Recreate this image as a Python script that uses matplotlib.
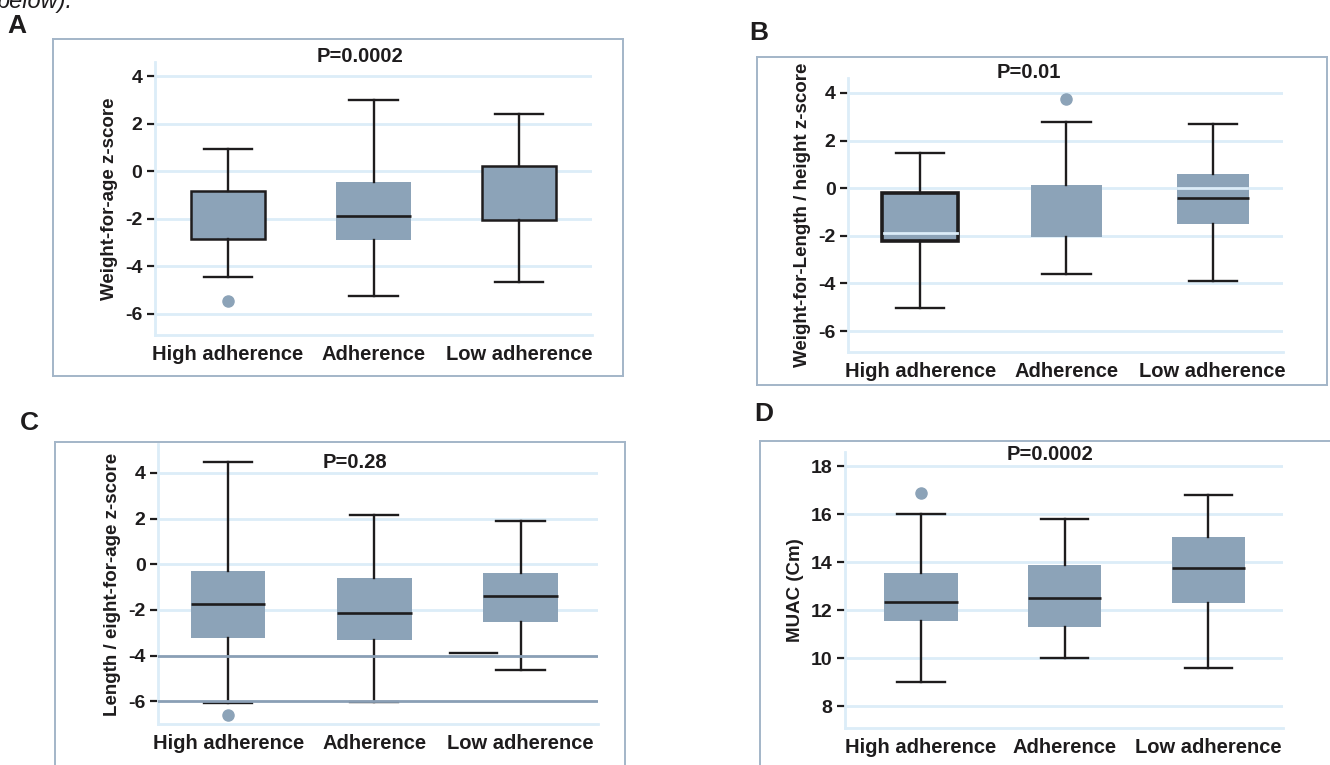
import matplotlib
matplotlib.use("Agg")
import matplotlib.pyplot as plt
import numpy as np
from matplotlib.lines import Line2D

plt.rcParams['font.family'] = ['Liberation Sans', 'DejaVu Sans']

# ---------------- data ----------------
categories = ["High adherence", "Adherence", "Low adherence"]

# Panel A: Weight-for-age z-score
a_whislo = [-4.45, -5.25, -4.65]
a_q1 = [-2.85, -2.90, -2.05]
a_med = [None, -1.90, None]
a_q3 = [-0.85, -0.45, 0.20]
a_whishi = [0.95, 3.00, 2.40]
a_fliers = [[-5.45], [], []]

# Panel B: Weight-for-Length / height z-score
b_whislo = [-5.05, -3.60, -3.90]
b_q1 = [-2.20, -2.05, -1.50]
b_med = [None, None, -0.40]
b_q3 = [-0.20, 0.15, 0.60]
b_whishi = [1.50, 2.80, 2.70]
b_fliers = [[], [3.75], []]

# Panel C: Length / height-for-age z-score
c_whislo = [-6.10, -6.05, -4.65]
c_q1 = [-3.25, -3.30, -2.55]
c_med = [-1.75, -2.15, -1.40]
c_q3 = [-0.30, -0.60, -0.40]
c_whishi = [4.50, 2.15, 1.90]
c_fliers = [[-6.60], [], []]
c_extra_y = -3.90
c_extra_x = [2.52, 2.84]

# Panel D: MUAC (Cm)
d_whislo = [9.00, 10.00, 9.60]
d_q1 = [11.55, 11.30, 12.30]
d_med = [12.35, 12.50, 13.75]
d_q3 = [13.55, 13.90, 15.05]
d_whishi = [16.00, 15.80, 16.80]
d_fliers = [[16.90], [], []]

z_ticks = [4, 2, 0, -2, -4, -6]
muac_ticks = [18, 16, 14, 12, 10, 8]

p_values = ["P=0.0002", "P=0.01", "P=0.28", "P=0.0002"]
ylabels = ["Weight-for-age z-score", "Weight-for-Length / height z-score",
           "Length / eight-for-age z-score", "MUAC (Cm)"]
letters = ["A", "B", "C", "D"]

# ---------------- style ----------------
W, H = 1330, 765
BOX = "#8ca3b8"
GRID = "#dcedf8"
FRAME = "#a3b5c8"
DARK = "#1e1c1d"

fig = plt.figure(figsize=(W / 100, H / 100), dpi=100)


def fx(x):
    return x / W


def fy(y):
    return 1 - y / H


def make_ax(l, t, r, b):
    return fig.add_axes([fx(l), fy(b), (r - l) / W, (b - t) / H])


def frame(l, t, r, b, sides="ltrb"):
    kw = dict(color=FRAME, lw=1.4)
    if "t" in sides:
        fig.add_artist(Line2D([fx(l), fx(r)], [fy(t), fy(t)], **kw))
    if "b" in sides:
        fig.add_artist(Line2D([fx(l), fx(r)], [fy(b), fy(b)], **kw))
    if "l" in sides:
        fig.add_artist(Line2D([fx(l), fx(l)], [fy(t), fy(b)], **kw))
    if "r" in sides:
        fig.add_artist(Line2D([fx(r), fx(r)], [fy(t), fy(b)], **kw))


def panel(ax, whislo, q1, med, q3, whishi, fliers, ticks, ylim, xlim,
          edge_w, grid_top, widths, ylabel, dark_grid=()):
    ax.set_xlim(*xlim)
    ax.set_ylim(*ylim)
    for s in ["top", "right"]:
        ax.spines[s].set_visible(False)
    for s in ["left", "bottom"]:
        ax.spines[s].set_color(GRID)
        ax.spines[s].set_linewidth(2)
    for t in ticks:
        if t in dark_grid:
            ax.axhline(t, color="#8a9fb5", lw=2, zorder=5)
        else:
            ax.axhline(t, color=GRID, lw=2, zorder=1)
    for i in range(len(q1)):
        m = med[i]
        stats = [dict(med=m if m is not None else q1[i], q1=q1[i], q3=q3[i],
                      whislo=whislo[i], whishi=whishi[i], fliers=fliers[i])]
        ew = edge_w[i]
        ax.bxp(stats, positions=[i + 1], widths=[widths[i]], capwidths=[0.33],
               patch_artist=True, manage_ticks=False,
               boxprops=dict(facecolor=BOX, edgecolor=DARK if ew > 0 else BOX,
                             linewidth=ew if ew > 0 else 0.0),
               whiskerprops=dict(color=DARK, lw=1.7),
               capprops=dict(color=DARK, lw=1.7),
               medianprops=dict(color=DARK, lw=1.9 if m is not None else 0,
                                alpha=1 if m is not None else 0),
               flierprops=dict(marker="o", markerfacecolor=BOX, markeredgecolor=BOX,
                               markersize=8),
               zorder=2)
        if grid_top[i]:
            for t in ticks:
                if q1[i] < t < q3[i]:
                    yy = t + (0.1 if t < 0 else 0)
                    ax.plot([i + 1 - widths[i] / 2 + 0.01, i + 1 + widths[i] / 2 - 0.01],
                            [yy, yy], color=GRID, lw=2, zorder=4)
    ax.set_yticks(ticks)
    ax.set_yticklabels([str(t) for t in ticks], fontsize=14, fontweight="bold", color=DARK)
    ax.tick_params(axis="y", length=6, width=1.6, color=DARK, pad=3)
    ax.set_xticks([1, 2, 3])
    ax.set_xticklabels(categories, fontsize=14.5, fontweight="bold", color=DARK)
    ax.tick_params(axis="x", length=0, pad=7)
    ax.set_ylabel(ylabel, fontsize=13.5, fontweight="bold", color=DARK, labelpad=5)


def title(x, y, s):
    fig.text(fx(x), fy(y), s, fontsize=14.5, fontweight="bold", color=DARK,
             ha="center", va="center")


def letter(x, y, s):
    fig.text(fx(x), fy(y), s, fontsize=19, fontweight="bold", color=DARK,
             ha="left", va="center")


# caption fragment cut off at the top of the picture (as in the source image)
fig.text(fx(-3), fy(8), "below).", fontsize=17, style="italic", color=DARK, va="baseline")

# Panel A
frame(53, 39, 623, 376)
axA = make_ax(155, 62, 592, 335)
panel(axA, a_whislo, a_q1, a_med, a_q3, a_whishi, a_fliers, z_ticks,
      (-6.9, 4.6), (0.5, 3.5), [1.8, 0, 1.8], [False, False, False],
      [0.51, 0.51, 0.51], ylabels[0])
title(360, 57, p_values[0])
letter(7, 26, letters[0])

# Panel B
frame(757, 57, 1327, 385)
axB = make_ax(848, 78, 1283, 352)
panel(axB, b_whislo, b_q1, b_med, b_q3, b_whishi, b_fliers, z_ticks,
      (-6.88, 4.63), (0.507, 3.48), [2.6, 0, 0], [True, False, True],
      [0.52, 0.49, 0.49], ylabels[1])
title(1029, 72, p_values[1])
letter(749, 33, letters[1])

# Panel C
frame(55, 442, 625, 780, sides="ltr")
axC = make_ax(158, 444, 598, 724)
panel(axC, c_whislo, c_q1, c_med, c_q3, c_whishi, c_fliers, z_ticks,
      (-7.0, 5.27), (0.52, 3.53), [0, 0, 0], [False, False, False],
      [0.51, 0.51, 0.51], ylabels[2], dark_grid=(-4, -6))
axC.plot(c_extra_x, [c_extra_y, c_extra_y], color=DARK, lw=1.7, zorder=6)
title(355, 462, p_values[2])
letter(20, 423, letters[2])

# Panel D
frame(760, 441, 1345, 780, sides="lt")
axD = make_ax(845, 452, 1283, 728)
panel(axD, d_whislo, d_q1, d_med, d_q3, d_whishi, d_fliers, muac_ticks,
      (7.1, 18.6), (0.47, 3.52), [0, 0, 0], [False, False, False],
      [0.51, 0.51, 0.51], ylabels[3])
title(1050, 455, p_values[3])
letter(754, 414, letters[3])

fig.savefig("out.png", dpi=100)
